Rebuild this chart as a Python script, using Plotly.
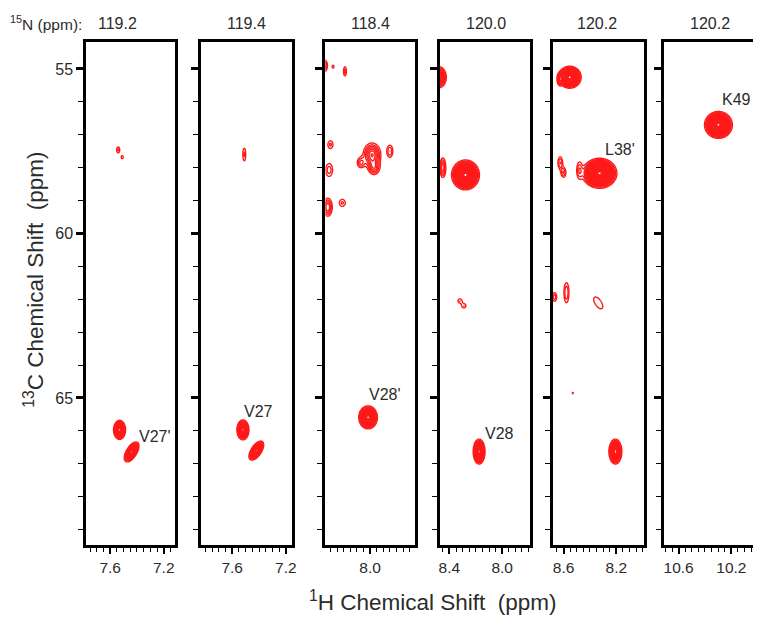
import numpy as np
import plotly.graph_objects as go

# ---------------- data ----------------
n15_values = ["119.2", "119.4", "118.4", "120.0", "120.2", "120.2"]

# 1H axis ranges per strip (reversed, ppm)
h_ranges = [(7.778, 7.119), (7.830, 7.156), (8.338, 7.662),
            (8.475, 7.791), (8.683, 7.991), (10.713, 10.036)]
c_range = (69.47, 54.18)

h_label_vals = [[7.6, 7.2], [7.6, 7.2], [8.0], [8.4, 8.0], [8.6, 8.2], [10.6, 10.2]]
h_label_text = [["7.6", "7.2"], ["7.6", "7.2"], ["8.0"], ["8.4", "8.0"], ["8.6", "8.2"],
                ["10.6", "10.2"]]
h_unlabelled_major = [[7.4], [7.4], [8.2, 7.8], [8.2], [8.4], [10.4]]
c_tickvals = [55, 60, 65]
c_ticktext = ["55", "60", "65"]
c_minorvals = list(range(55, 70))

# peak list: strip index, 1H, 13C, widths (ppm), amplitude, tilt correlation
peak_panel = [0, 0, 0, 0,
              1, 1, 1,
              2, 2, 2, 2, 2, 2, 2, 2, 2, 2, 2, 2,
              3, 3, 3, 3, 3, 3,
              4, 4, 4, 4, 4, 4, 4, 4, 4, 4, 4,
              5]
peak_h = [7.54, 7.51, 7.53, 7.44,
          7.51, 7.52, 7.42,
          8.345, 8.28, 8.19, 7.985, 8.07, 7.97, 7.85, 8.31, 8.32, 8.21, 8.015, 8.30,
          8.48, 8.278, 8.45, 8.32, 8.29, 8.175,
          8.553, 8.63, 8.327, 8.48, 8.625, 8.60, 8.668, 8.578, 8.337, 8.53, 8.207,
          10.298]
peak_c = [57.46, 57.68, 65.97, 66.64,
          57.60, 65.97, 66.60,
          54.90, 54.93, 55.07, 57.60, 57.85, 58.00, 57.50, 58.07, 59.20, 59.07, 65.59, 57.30,
          55.25, 58.22, 58.00, 62.05, 62.20, 66.63,
          55.25, 55.33, 58.17, 58.07, 57.85, 58.15, 61.93, 61.80, 62.11, 64.85, 66.63,
          56.70]
peak_sh = [0.012, 0.010, 0.022, 0.027,
           0.011, 0.022, 0.027,
           0.015, 0.010, 0.010, 0.040, 0.022, 0.030, 0.019, 0.024, 0.023, 0.023, 0.033, 0.020,
           0.030, 0.046, 0.015, 0.017, 0.017, 0.022,
           0.039, 0.012, 0.056, 0.017, 0.015, 0.015, 0.015, 0.016, 0.038, 0.006, 0.024,
           0.046]
peak_sc = [0.094, 0.063, 0.142, 0.149,
           0.200, 0.149, 0.142,
           0.123, 0.060, 0.127, 0.210, 0.120, 0.150, 0.155, 0.180, 0.185, 0.110, 0.163, 0.120,
           0.169, 0.198, 0.200, 0.068, 0.068, 0.186,
           0.150, 0.120, 0.194, 0.210, 0.150, 0.120, 0.120, 0.260, 0.200, 0.040, 0.186,
           0.178]
peak_amp = [1.6, 1.3, 8, 8,
            1.6, 8, 8,
            3, 1.3, 1.8, 4, 2, 2.5, 2, 1.8, 3, 1.6, 10, 1.6,
            6, 14, 3, 1.5, 1.5, 8,
            12, 2, 16, 1.8, 2, 2, 1.8, 2, 1.5, 1.2, 8,
            14]
peak_rho = [0, 0, 0, 0.6,
            0, 0, 0.6,
            0, 0, 0, 0, 0, 0, 0, 0, 0, 0, 0, 0,
            0, 0, 0, 0, 0, 0,
            0, 0, 0, 0, 0, 0, 0, 0, -0.6, 0, 0,
            0]

label_panel = [0, 1, 2, 3, 4, 5]
label_text = ["V27'", "V27", "V28'", "V28", "L38'", "K49"]
label_h = [7.265, 7.405, 7.887, 8.023, 8.175, 10.162]
label_c = [66.18, 65.42, 64.91, 66.09, 57.46, 55.94]

# ---------------- layout geometry ----------------
W, H = 758, 620
px_domains = [(86, 175), (202, 293), (327, 417), (442, 533), (556, 648), (668, 758)]
y_dom = (1 - 545 / H, 1 - 42 / H)
title_px = [117, 247, 372, 489, 601, 715]

RED = "#ff1a1a"
FONT = "Liberation Sans, Arial, sans-serif"
TXT = "#2b2b2b"

fig = go.Figure()

for i in range(6):
    h0, h1 = h_ranges[i]
    xs = np.linspace(h1 - 0.02, h0 + 0.02, 160)
    ys = np.linspace(54.0, 69.7, 560)
    HH, CC = np.meshgrid(xs, ys)
    Z = np.zeros_like(HH)
    for k in range(len(peak_panel)):
        if peak_panel[k] != i:
            continue
        u = (HH - peak_h[k]) / peak_sh[k]
        v = (CC - peak_c[k]) / peak_sc[k]
        r = peak_rho[k]
        q = (u * u - 2 * r * u * v + v * v) / (1 - r * r)
        Z += peak_amp[k] * np.exp(-0.5 * q)
    fig.add_trace(go.Contour(
        x=xs.astype(np.float32), y=ys.astype(np.float32), z=Z.astype(np.float32),
        xaxis=f"x{i+1}", yaxis=f"y{i+1}",
        contours=dict(start=1, end=40, size=0.5, coloring="lines"),
        line=dict(width=1.4),
        colorscale=[[0, RED], [1, RED]], showscale=False, hoverinfo="skip",
    ))

layout = dict(width=W, height=H, margin=dict(l=0, r=0, t=0, b=0),
              paper_bgcolor="white", plot_bgcolor="white", showlegend=False,
              font=dict(family=FONT, color=TXT))
for i in range(6):
    a, b = px_domains[i]
    h0, h1 = h_ranges[i]
    minor_vals = [round(v, 2) for v in np.arange(np.floor(h1 * 20) / 20, h0 + 0.001, 0.05)]
    layout[f"xaxis{i+1}"] = dict(
        domain=[a / W, b / W], range=[h0, h1], anchor=f"y{i+1}",
        showgrid=False, zeroline=False, showline=True, linecolor="black", linewidth=3,
        mirror=True, ticks="outside", ticklen=6, tickwidth=2.2, tickcolor="black",
        tickmode="array", tickvals=h_label_vals[i], ticktext=h_label_text[i],
        tickfont=dict(size=15.5, family=FONT, color=TXT),
        minor=dict(tickmode="array", tickvals=minor_vals, ticks="outside",
                   ticklen=3.5, tickwidth=1.2, tickcolor="black"),
    )
    # overlay axis drawing the unlabelled 0.2-ppm major ticks
    layout[f"xaxis{i+7}"] = dict(
        domain=[a / W, b / W], range=[h0, h1], anchor=f"y{i+1}", overlaying=f"x{i+1}",
        side="bottom", showgrid=False, zeroline=False, showline=False,
        ticks="outside", ticklen=6, tickwidth=2.2, tickcolor="black",
        tickmode="array", tickvals=h_unlabelled_major[i], showticklabels=False,
    )
    ydict = dict(
        domain=list(y_dom), range=list(c_range), anchor=f"x{i+1}",
        showgrid=False, zeroline=False, showline=True, linecolor="black", linewidth=3,
        mirror=(i < 5), ticks="outside", ticklen=7, tickwidth=2.5, tickcolor="black",
        tickmode="array", tickvals=c_tickvals,
        showticklabels=(i == 0),
        tickfont=dict(size=16, family=FONT, color=TXT),
        minor=dict(tickmode="array", tickvals=c_minorvals, ticks="outside",
                   ticklen=5, tickwidth=1.3, tickcolor="black"),
    )
    if i == 0:
        ydict["ticktext"] = c_ticktext
    layout[f"yaxis{i+1}"] = ydict

ann = []
for i in range(6):
    ann.append(dict(xref="paper", yref="paper", x=title_px[i] / W, y=1 - 23 / H,
                    text=n15_values[i], showarrow=False, xanchor="center", yanchor="middle",
                    font=dict(size=16, family=FONT, color=TXT)))
ann.append(dict(xref="paper", yref="paper", x=84 / W, y=1 - 23 / H,
                text="<sup>15</sup>N (ppm):", showarrow=False, xanchor="right", yanchor="middle",
                font=dict(size=15.5, family=FONT, color=TXT)))
for j in range(len(label_text)):
    p = label_panel[j]
    ann.append(dict(xref=f"x{p+1}", yref=f"y{p+1}", x=label_h[j], y=label_c[j],
                    text=label_text[j], showarrow=False, xanchor="center", yanchor="middle",
                    font=dict(size=16, family=FONT, color=TXT)))
ann.append(dict(xref="paper", yref="paper", x=435 / W, y=1 - 601 / H,
                text="<sup>1</sup>H Chemical Shift \u00a0(ppm)", showarrow=False,
                xanchor="center", yanchor="middle", font=dict(size=22.5, family=FONT, color=TXT)))
ann.append(dict(xref="paper", yref="paper", x=33 / W, y=1 - 280 / H,
                text="<sup>13</sup>C Chemical Shift \u00a0(ppm)", showarrow=False, textangle=-90,
                xanchor="center", yanchor="middle", font=dict(size=22.5, family=FONT, color=TXT)))
layout["annotations"] = ann

fig.update_layout(**layout)
fig.write_html("out.html")
